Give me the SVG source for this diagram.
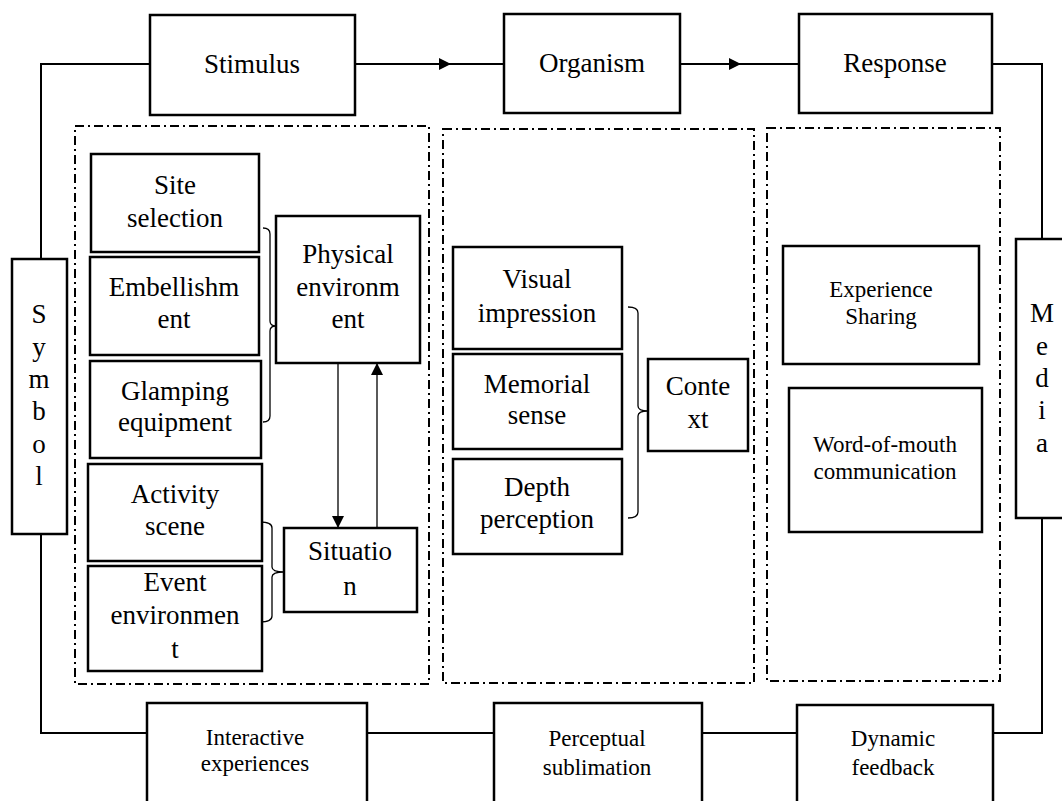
<svg xmlns="http://www.w3.org/2000/svg" width="1062" height="801" viewBox="0 0 1062 801">
<style>
.box{fill:#fff;stroke:#000;stroke-width:2.5}
.grp{fill:none;stroke:#000;stroke-width:2;stroke-dasharray:9 4 2 4}
.t{font-family:"Liberation Serif","Times New Roman",serif;font-size:27px;fill:#000;text-anchor:middle}
.s{font-size:23px}
.ln{fill:none;stroke:#000;stroke-width:2}
.thin{fill:none;stroke:#000;stroke-width:1.3}
</style>
<defs>
<marker id="ah" markerWidth="14" markerHeight="14" refX="12" refY="6" orient="auto" markerUnits="userSpaceOnUse">
<path d="M0,0 L12,6 L0,12 Z" fill="#000"/>
</marker>
</defs>
<rect width="1062" height="801" fill="#fff"/>

<g id="groups">
<rect class="grp" x="75" y="126" width="354" height="558"/>
<rect class="grp" x="443" y="129" width="311" height="554"/>
<rect class="grp" x="767" y="128" width="233" height="553"/>
</g>

<g id="connectors">
<path class="ln" d="M150,64 H41 V259"/>
<path class="ln" d="M41,534 V733 H147"/>
<path class="ln" d="M355,64 L451,64 L504,64" marker-mid="url(#ah)"/>
<path class="ln" d="M680,64 L741,64 L799,64" marker-mid="url(#ah)"/>
<path class="ln" d="M992,64 H1042 V239"/>
<path class="ln" d="M1042,518 V733 H993"/>
<path class="ln" d="M367,733 H494"/>
<path class="ln" d="M702,733 H797"/>
<path class="thin" d="M338,363 V528" marker-end="url(#ah)"/>
<path class="thin" d="M377,528 V363" marker-end="url(#ah)"/>
<path class="thin" d="M263,228 Q270,228 270,234 V321 Q270,326 276,326 Q270,326 270,331 V416 Q270,422 263,422"/>
<path class="thin" d="M260,522 Q272,522 272,528 V567 Q272,572 284,572 Q272,572 272,577 V616 Q272,622 260,622"/>
<path class="thin" d="M628,307 Q638,307 638,313 V406 Q638,411 648,411 Q638,411 638,416 V512 Q638,518 628,518"/>
</g>

<g id="stimulus"><rect class="box" x="150" y="15" width="205" height="100"/><text class="t" x="252" y="73">Stimulus</text></g>
<g id="organism"><rect class="box" x="504" y="14" width="176" height="99"/><text class="t" x="592" y="72">Organism</text></g>
<g id="response"><rect class="box" x="799" y="14" width="193" height="99"/><text class="t" x="895" y="72">Response</text></g>

<g id="symbol"><rect class="box" x="12" y="259" width="55" height="275"/>
<text class="t" x="39"><tspan x="39" y="323">S</tspan><tspan x="39" y="356">y</tspan><tspan x="39" y="388">m</tspan><tspan x="39" y="420">b</tspan><tspan x="39" y="453">o</tspan><tspan x="39" y="485">l</tspan></text></g>

<g id="media"><rect class="box" x="1016" y="239" width="60" height="279"/>
<text class="t" x="1042"><tspan x="1042" y="322">M</tspan><tspan x="1042" y="355">e</tspan><tspan x="1042" y="387">d</tspan><tspan x="1042" y="419">i</tspan><tspan x="1042" y="452">a</tspan></text></g>

<g id="site-selection"><rect class="box" x="91" y="154" width="168" height="98"/><text class="t"><tspan x="175" y="194">Site</tspan><tspan x="175" y="227">selection</tspan></text></g>
<g id="embellishment"><rect class="box" x="90" y="257" width="169" height="98"/><text class="t"><tspan x="174" y="296">Embellishm</tspan><tspan x="174" y="328">ent</tspan></text></g>
<g id="glamping"><rect class="box" x="90" y="361" width="171" height="97"/><text class="t"><tspan x="175" y="400">Glamping</tspan><tspan x="175" y="431">equipment</tspan></text></g>
<g id="activity"><rect class="box" x="88" y="464" width="174" height="97"/><text class="t"><tspan x="175" y="503">Activity</tspan><tspan x="175" y="535">scene</tspan></text></g>
<g id="event"><rect class="box" x="88" y="566" width="174" height="105"/><text class="t"><tspan x="175" y="591">Event</tspan><tspan x="175" y="624">environmen</tspan><tspan x="175" y="658">t</tspan></text></g>
<g id="physical"><rect class="box" x="276" y="216" width="144" height="147"/><text class="t"><tspan x="348" y="263">Physical</tspan><tspan x="348" y="296">environm</tspan><tspan x="348" y="328">ent</tspan></text></g>
<g id="situation"><rect class="box" x="284" y="528" width="133" height="84"/><text class="t"><tspan x="350" y="560">Situatio</tspan><tspan x="350" y="595">n</tspan></text></g>

<g id="visual"><rect class="box" x="453" y="247" width="169" height="102"/><text class="t"><tspan x="537" y="288">Visual</tspan><tspan x="537" y="322">impression</tspan></text></g>
<g id="memorial"><rect class="box" x="453" y="354" width="169" height="95"/><text class="t"><tspan x="537" y="393">Memorial</tspan><tspan x="537" y="424">sense</tspan></text></g>
<g id="depth"><rect class="box" x="453" y="459" width="169" height="95"/><text class="t"><tspan x="537" y="496">Depth</tspan><tspan x="537" y="528">perception</tspan></text></g>
<g id="context"><rect class="box" x="648" y="359" width="100" height="92"/><text class="t"><tspan x="698" y="395">Conte</tspan><tspan x="698" y="428">xt</tspan></text></g>

<g id="experience"><rect class="box" x="783" y="246" width="196" height="118"/><text class="t s"><tspan x="881" y="297">Experience</tspan><tspan x="881" y="324">Sharing</tspan></text></g>
<g id="wom"><rect class="box" x="789" y="388" width="193" height="144"/><text class="t s"><tspan x="885" y="452">Word-of-mouth</tspan><tspan x="885" y="479">communication</tspan></text></g>

<g id="interactive"><rect class="box" x="147" y="703" width="220" height="110"/><text class="t s"><tspan x="255" y="745">Interactive</tspan><tspan x="255" y="771">experiences</tspan></text></g>
<g id="perceptual"><rect class="box" x="494" y="703" width="208" height="110"/><text class="t s"><tspan x="597" y="746">Perceptual</tspan><tspan x="597" y="775">sublimation</tspan></text></g>
<g id="dynamic"><rect class="box" x="797" y="705" width="196" height="110"/><text class="t s"><tspan x="893" y="746">Dynamic</tspan><tspan x="893" y="775">feedback</tspan></text></g>
</svg>
